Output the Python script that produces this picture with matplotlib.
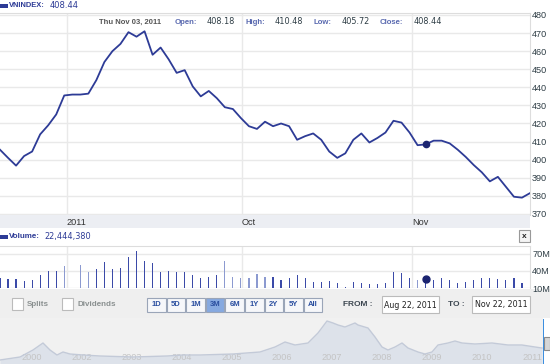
import numpy as np
import matplotlib
matplotlib.use('Agg')
from matplotlib import pyplot as plt
from matplotlib import transforms
from matplotlib.patches import Rectangle

plt.rcParams['font.family'] = ['Liberation Sans', 'DejaVu Sans']

W, H = 550, 364

# daily closes, Aug 22 - Nov 22 2011 (one per trading day)
closes = [405.5, 401.0, 396.7, 402.0, 404.5, 414.0, 419.0, 425.0, 435.5, 436.0,
          436.0, 436.5, 444.0, 454.0, 460.0, 464.0, 470.5, 468.0, 471.0, 458.0,
          462.0, 455.5, 448.0, 449.5, 440.5, 435.0, 438.0, 434.0, 429.0, 428.0,
          423.0, 418.5, 417.0, 421.0, 418.5, 420.0, 418.5, 411.0, 413.0, 414.5,
          411.0, 404.5, 401.0, 403.5, 411.0, 414.5, 409.5, 412.0, 415.0, 421.5,
          420.5, 415.0, 408.0, 408.44, 410.5, 410.5, 409.0, 405.5, 401.5, 397.0,
          393.0, 388.0, 390.5, 385.0, 379.5, 379.0, 381.5]

# daily volume, millions (nan = no trading)
volumes = [28, 26, 26, 22, 24, 33, 40.5, 40.5, 49, np.nan,
           50.6, 38, 43.5, 56, 43.5, 46, 64, 75, 58, 53.5,
           38, 40, 38, 38, 33, 27, 30, 33, 58, 30,
           27, 27, 35, 30, 29, 24, 28, 33, 27, 21,
           21, 22, 18, 12, 21, 18, 16.5, 16.5, 18, 37.7,
           36, 27, 24, 25, 24, 27, 24, 18, 21, 24,
           27, 27, 26, 24, 27, 18, np.nan]
light_bars = [8, 10, 11, 28, 29, 30, 31, 32, 33, 52]

date_ticks = [8.34, 30.14, 51.3]
date_labels = ['2011', 'Oct', 'Nov']
price_ticks = list(range(370, 481, 10))
volume_ticks = [10, 40, 70]
volume_labels = ['10M', '40M', '70M']
selected_day = 53

# long-range navigator (VN-Index history, relative level)
nav_years = [2000.36, 2000.76, 2001.02, 2001.22, 2001.36, 2001.50, 2001.62, 2001.76,
             2002.02, 2002.36, 2003.02, 2003.70, 2004.02, 2004.36, 2005.02, 2005.56,
             2005.86, 2006.06, 2006.26, 2006.52, 2006.72, 2006.90, 2007.02, 2007.12,
             2007.26, 2007.46, 2007.52, 2007.72, 2007.86, 2008.00, 2008.12, 2008.26,
             2008.40, 2008.52, 2008.72, 2008.86, 2009.00, 2009.12, 2009.32, 2009.46,
             2009.60, 2009.86, 2010.20, 2010.52, 2010.80, 2011.06, 2011.20]
nav_levels = [4, 7, 14, 21, 14, 9, 12, 10, 9, 8, 7, 8, 9, 9, 10, 12,
              17, 22, 19, 21, 31, 43, 41, 39, 37, 41, 39, 36, 27, 17, 14, 17,
              21, 16, 12, 10, 12, 19, 21, 23, 21, 20, 21, 19, 19, 17, 16]
nav_tick_pos = list(range(2001, 2012))
nav_tick_labels = ['2000', '2002', '2003', '2004', '2005', '2006', '2007',
                   '2008', '2009', '2010', '2011']

range_buttons = ['1D', '5D', '1M', '3M', '6M', '1Y', '2Y', '5Y', 'All']
active_button = '3M'

NAVY = '#2d3b96'
TICK_COLOR = '#2e3d45'
GRID = '#e9e9e9'
VALUE_FONT = 'DejaVu Sans'


def px_rect(x0, y0, x1, y1):
    return [x0 / W, 1 - y1 / H, (x1 - x0) / W, (y1 - y0) / H]


fig = plt.figure(figsize=(W / 100, H / 100), dpi=100)
fig.patch.set_facecolor('white')

# background strips
bg = fig.add_axes([0, 0, 1, 1], zorder=0)
bg.set_xlim(0, W)
bg.set_ylim(H, 0)
bg.axis('off')
bg.add_patch(Rectangle((0, 215), 530, 13, facecolor='#eceef3', edgecolor='none'))
bg.add_patch(Rectangle((0, 289), W, 29, facecolor='#efefef', edgecolor='none'))

x_idx = np.arange(len(closes))
shift = transforms.ScaledTranslation(2 / 100, 0, fig.dpi_scale_trans)

# price panel
ax = fig.add_axes(px_rect(0, 13, 530, 215), zorder=1)
ax.plot(x_idx, closes, color=NAVY, lw=1.3, zorder=3)
ax.plot(selected_day, closes[selected_day], 'o', color='#1b2470', ms=4.5, zorder=4)
ax.set_xlim(0, len(closes) - 1)
ax.set_ylim(369.4, 481.1)
ax.set_yticks(price_ticks)
ax.yaxis.tick_right()
ax.set_xticks(date_ticks)
ax.set_xticklabels(date_labels)
for lbl in ax.get_xticklabels():
    lbl.set_horizontalalignment('left')
    lbl.set_transform(lbl.get_transform() + shift)
ax.tick_params(axis='y', length=0, pad=1.5, labelsize=6.6, labelcolor=TICK_COLOR)
ax.tick_params(axis='x', length=0, pad=2, labelsize=6.6, labelcolor='#333333')
ax.grid(True, color=GRID, lw=1)
for side in ['left', 'bottom']:
    ax.spines[side].set_visible(False)
for side in ['right', 'top']:
    ax.spines[side].set_color('#dddddd')

# volume panel
axv = fig.add_axes(px_rect(0, 246, 530, 288), zorder=1)
bar_colors = ['#8c9ad0' if i in light_bars else '#3b4aa8' for i in x_idx]
axv.bar(x_idx, np.nan_to_num(volumes), width=0.14, color=bar_colors, zorder=3)
axv.plot(selected_day, volumes[selected_day], 'o', color='#1b2470', ms=5, zorder=4)
axv.set_xlim(0, len(closes) - 1)
axv.set_ylim(10, 84)
axv.set_yticks(volume_ticks)
axv.set_yticklabels(volume_labels)
axv.yaxis.tick_right()
axv.set_xticks(date_ticks)
axv.set_xticklabels([])
axv.tick_params(axis='both', length=0, pad=1.5, labelsize=6.6, labelcolor=TICK_COLOR)
axv.grid(True, color=GRID, lw=1)
for side in ['left', 'bottom']:
    axv.spines[side].set_visible(False)
for side in ['right', 'top']:
    axv.spines[side].set_color('#dddddd')

# navigator panel
axn = fig.add_axes(px_rect(0, 318, 543, 364), zorder=1)
axn.set_facecolor('#f1f1f1')
axn.fill_between(nav_years, nav_levels, 0, color='#dde2ea', lw=0)
axn.plot(nav_years, nav_levels, color='#c3cad8', lw=1)
axn.set_xlim(2000.36, 2011.22)
axn.set_ylim(0, 46)
axn.set_yticks([])
axn.set_xticks(nav_tick_pos)
axn.set_xticklabels(nav_tick_labels)
axn.tick_params(axis='x', direction='in', length=0, pad=-8, labelsize=6.6,
                labelcolor='#c4c4c4')
for side in axn.spines:
    axn.spines[side].set_visible(False)

# foreground labels and controls
fg = fig.add_axes([0, 0, 1, 1], zorder=5)
fg.set_xlim(0, W)
fg.set_ylim(H, 0)
fg.axis('off')
fg.patch.set_alpha(0)

fg.add_patch(Rectangle((0, 3.5), 8, 4, facecolor=NAVY, edgecolor='none'))
fg.text(9, 5.5, 'VNINDEX:', fontsize=5.4, fontweight='bold', color=NAVY, va='center')
fg.text(50, 5.5, '408.44', fontsize=6, family=VALUE_FONT, color=NAVY, va='center')

info_y = 22
fg.text(99, info_y, 'Thu Nov 03, 2011', fontsize=5.5, fontweight='bold',
        color='#555555', va='center')
for label, value, lx, vx in [('Open:', '408.18', 175, 207), ('High:', '410.48', 246, 275),
                             ('Low:', '405.72', 313, 342), ('Close:', '408.44', 380, 414)]:
    fg.text(lx, info_y, label, fontsize=5.6, fontweight='bold', color='#5a6ab0', va='center')
    fg.text(vx, info_y, value, fontsize=5.9, family=VALUE_FONT, color='#2e3d45',
            va='center')

fg.add_patch(Rectangle((0, 235), 8, 4, facecolor=NAVY, edgecolor='none'))
fg.text(9, 237, 'Volume:', fontsize=5.8, fontweight='bold', color=NAVY, va='center')
fg.text(44, 237, '22,444,380', fontsize=5.9, family=VALUE_FONT, color=NAVY, va='center')

fg.add_patch(Rectangle((519, 230), 11, 12, facecolor='#f4f4f4', edgecolor='#999999', lw=0.8))
fg.text(524.5, 236, 'x', fontsize=6, fontweight='bold', color='#222222',
        ha='center', va='center')

# checkboxes
for bx, text in [(12, 'Splits'), (62, 'Dividends')]:
    fg.add_patch(Rectangle((bx, 298), 11, 12, facecolor='white', edgecolor='#bbbbbb', lw=0.8))
    fg.text(bx + 15, 304, text, fontsize=5.8, fontweight='bold', color='#8a9090', va='center')

# range buttons
for k, name in enumerate(range_buttons):
    x0 = 147 + k * 19.6
    selected = name == active_button
    fg.add_patch(Rectangle((x0, 298), 18.5, 14,
                           facecolor='#86a9e0' if selected else '#f6f7fa',
                           edgecolor='#9aa5b8', lw=0.8))
    fg.text(x0 + 9.25, 305, name, fontsize=5.5, fontweight='bold', color='#2b4fa0',
            ha='center', va='center')

fg.text(343, 305, 'FROM :', fontsize=6, fontweight='bold', color='#3c4650', va='center')
fg.add_patch(Rectangle((382, 296), 57, 17, facecolor='white', edgecolor='#bbbbbb', lw=0.8))
fg.text(410.5, 305, 'Aug 22, 2011', fontsize=5.7, family=VALUE_FONT, color='#222222',
        ha='center', va='center')
fg.text(448, 305, 'TO :', fontsize=6, fontweight='bold', color='#3c4650', va='center')
fg.add_patch(Rectangle((472, 296), 58, 17, facecolor='white', edgecolor='#bbbbbb', lw=0.8))
fg.text(501, 305, 'Nov 22, 2011', fontsize=5.7, family=VALUE_FONT, color='#222222',
        ha='center', va='center')

# navigator range handle
fg.add_patch(Rectangle((542.5, 319), 1.5, 45, facecolor='#3d8fe0', edgecolor='none'))
fg.add_patch(Rectangle((544, 337), 6, 13, facecolor='#d6d6d6', edgecolor='#8a8a8a', lw=0.8))

fig.savefig('out.png', dpi=100)
